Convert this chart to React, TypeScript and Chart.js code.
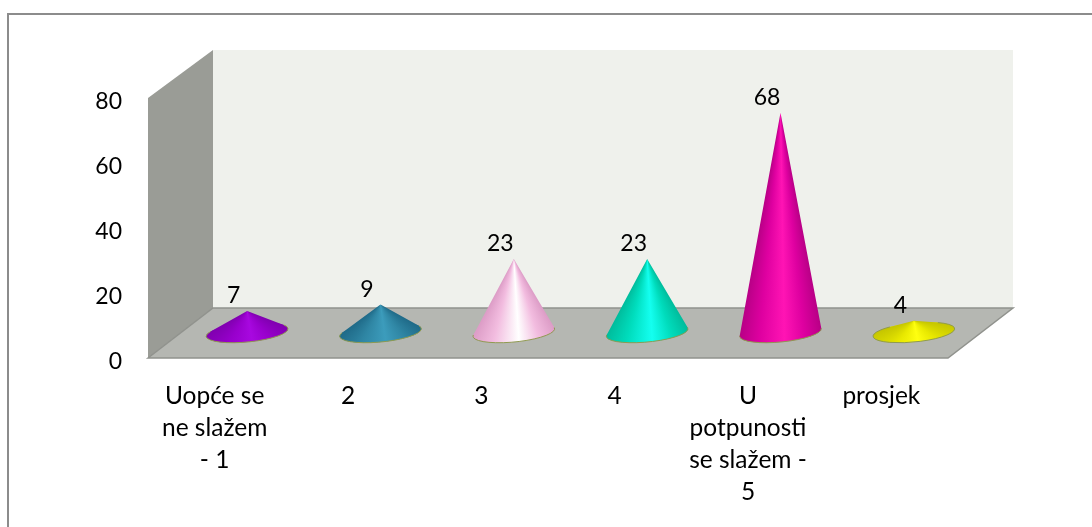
import React, { useEffect, useRef } from "react";
import { Chart, registerables } from "chart.js";

Chart.register(...registerables);

const categories: (string | string[])[] = [
  ["Uopće se", "ne slažem", "- 1"],
  "2",
  "3",
  "4",
  ["U", "potpunosti", "se slažem -", "5"],
  "prosjek",
];
const values = [7, 9, 23, 23, 68, 4];
const yTicks = [0, 20, 40, 60, 80];

// edge, mid, highlight colours for each cone
const coneEdge = ["#8000b0", "#1f6a88", "#dc9cc6", "#00bc9c", "#b80086", "#c4c400"];
const coneMid = ["#9800cc", "#2f86a4", "#f2bcdf", "#00dcbc", "#de00a0", "#e8e800"];
const coneLight = ["#a808e0", "#3c9cbc", "#ffffff", "#14fff0", "#ff14b4", "#ffff10"];

const FONT = "23px Lato, Carlito, sans-serif";
const DEPTH_X = 65;
const DEPTH_Y = 50;

const scene = {
  id: "scene",
  beforeDraw(chart: any) {
    const { ctx, chartArea: a } = chart;
    ctx.save();
    // outer frame (top and left only)
    ctx.fillStyle = "#8c8c8c";
    ctx.fillRect(7, 13, 1085, 2);
    ctx.fillRect(7, 13, 2, 514);
    // back wall
    ctx.fillStyle = "#eff1ec";
    ctx.fillRect(a.left + DEPTH_X, a.top - 48, a.right - a.left, a.bottom - a.top - 2);
    // left wall
    ctx.fillStyle = "#9a9c96";
    ctx.beginPath();
    ctx.moveTo(a.left, a.top);
    ctx.lineTo(a.left + DEPTH_X, a.top - 48);
    ctx.lineTo(a.left + DEPTH_X, a.bottom - DEPTH_Y);
    ctx.lineTo(a.left, a.bottom);
    ctx.closePath();
    ctx.fill();
    // floor
    ctx.fillStyle = "#b5b7b2";
    ctx.strokeStyle = "#90928d";
    ctx.lineWidth = 1.5;
    ctx.beginPath();
    ctx.moveTo(a.left, a.bottom);
    ctx.lineTo(a.left + DEPTH_X, a.bottom - DEPTH_Y);
    ctx.lineTo(a.right + DEPTH_X, a.bottom - DEPTH_Y);
    ctx.lineTo(a.right, a.bottom);
    ctx.closePath();
    ctx.fill();
    ctx.stroke();
    ctx.restore();
  },
  afterDatasetsDraw(chart: any) {
    const { ctx } = chart;
    const meta = chart.getDatasetMeta(0);
    const rx = 41;
    const ry = 9.5;
    const tilt = (-5.5 * Math.PI) / 180;
    const cosT = Math.cos(tilt);
    const sinT = Math.sin(tilt);
    meta.data.forEach((bar: any, i: number) => {
      const cx = bar.x + DEPTH_X / 2;
      const cy = bar.base - 25.5;
      const tipY = bar.y - 24.3;
      // tip in the ellipse's own unit-circle frame, to find the tangent points
      const relX = 0;
      const relY = tipY - cy;
      const ux = (relX * cosT + relY * sinT) / rx;
      const uy = (-relX * sinT + relY * cosT) / ry;
      const d = Math.hypot(ux, uy);
      const phi = Math.atan2(uy, ux);
      const off = Math.acos(Math.min(1, 1 / d));
      // phi is near -90deg, so phi+off is the right tangent, phi-off the left one
      const thR = phi + off;
      const thL = phi - off + Math.PI * 2;
      const pt = (th: number) => {
        const ex = rx * Math.cos(th);
        const ey = ry * Math.sin(th);
        return [cx + ex * cosT - ey * sinT, cy + ex * sinT + ey * cosT];
      };
      const stops = (g: CanvasGradient, k: number) => {
        g.addColorStop(0, coneEdge[i]);
        g.addColorStop(0.22 * k, coneMid[i]);
        g.addColorStop(0.46 * k, coneLight[i]);
        g.addColorStop(0.76 * k, coneMid[i]);
        g.addColorStop(1 * k, coneEdge[i]);
      };
      ctx.save();
      // base disc
      const lin = ctx.createLinearGradient(cx + rx, 0, cx - rx, 0);
      stops(lin, 1);
      ctx.fillStyle = lin;
      ctx.beginPath();
      ctx.ellipse(cx, cy, rx, ry, tilt, 0, Math.PI * 2);
      ctx.fill();
      // cone body, shaded along rays from the tip
      const [rxp, ryp] = pt(thR);
      const [lxp, lyp] = pt(thL);
      const aR = Math.atan2(ryp - tipY, rxp - cx);
      const aL = Math.atan2(lyp - tipY, lxp - cx);
      const con = (ctx as any).createConicGradient(aR, cx, tipY);
      stops(con, (aL - aR) / (Math.PI * 2));
      ctx.fillStyle = con;
      ctx.beginPath();
      ctx.moveTo(cx, tipY);
      ctx.lineTo(rxp, ryp);
      ctx.ellipse(cx, cy, rx, ry, tilt, thR, thL, false);
      ctx.closePath();
      ctx.fill();
      // lower rim
      ctx.strokeStyle = "#8f9a50";
      ctx.lineWidth = 1;
      ctx.beginPath();
      ctx.ellipse(cx, cy, rx, ry, tilt, thR, thL, false);
      ctx.stroke();
      // value label
      ctx.fillStyle = "#000";
      ctx.font = FONT;
      ctx.textAlign = "center";
      ctx.textBaseline = "middle";
      ctx.fillText(String(values[i]), cx - 13.5, tipY - 15);
      ctx.restore();
    });
  },
};

export default function App() {
  const ref = useRef<HTMLCanvasElement>(null);
  useEffect(() => {
    const chart = new Chart(ref.current as HTMLCanvasElement, {
      type: "bar",
      data: {
        labels: categories as any,
        datasets: [{ data: values, backgroundColor: "rgba(0,0,0,0)", borderWidth: 0 }],
      },
      plugins: [scene],
      options: {
        responsive: false,
        animation: false,
        layout: { padding: { top: 98, right: 144, bottom: 0, left: 0 } },
        plugins: { legend: { display: false }, tooltip: { enabled: false } },
        scales: {
          x: {
            afterFit(s: any) {
              s.height = 169;
            },
            grid: { display: false, drawTicks: false },
            border: { display: false },
            ticks: {
              color: "#000",
              maxRotation: 0,
              autoSkip: false,
              padding: 22,
              font: { family: "Lato, Carlito, sans-serif", size: 24.5, lineHeight: 32 / 24.5 },
            },
          },
          y: {
            min: yTicks[0],
            max: yTicks[yTicks.length - 1],
            afterFit(s: any) {
              s.width = 148;
            },
            grid: { display: false, drawTicks: false },
            border: { display: false },
            ticks: {
              color: "#000",
              stepSize: 20,
              padding: 26,
              labelOffset: 4,
              font: { family: "Lato, Carlito, sans-serif", size: 23 },
            },
          },
        },
      } as any,
    });
    return () => chart.destroy();
  }, []);
  return (
    <div style={{ position: "fixed", left: 0, top: 0, width: 1092, height: 527, background: "#fff" }}>
      <canvas ref={ref} width={1092} height={527} style={{ display: "block" }} />
    </div>
  );
}
